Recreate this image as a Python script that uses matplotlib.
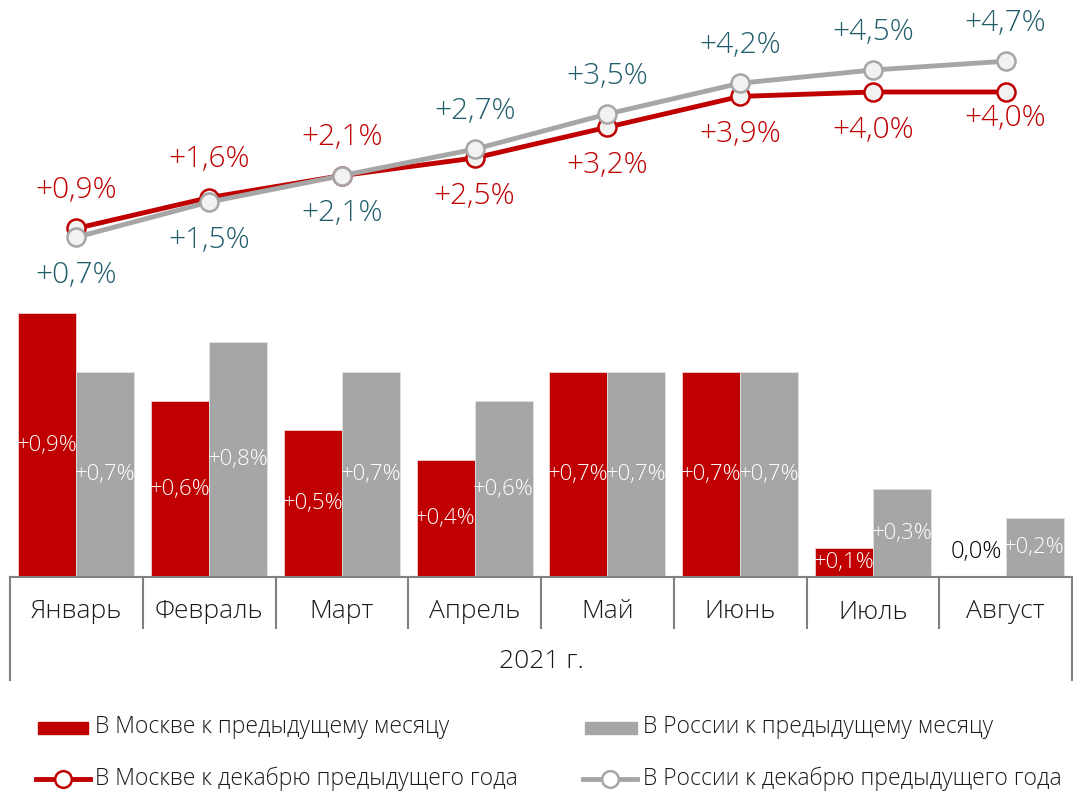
import matplotlib
matplotlib.use('Agg')
import matplotlib.pyplot as plt
import numpy as np
from matplotlib.patches import Rectangle
from matplotlib.lines import Line2D

plt.rcParams['font.family'] = ['Open Sans', 'DejaVu Sans']
plt.rcParams['font.weight'] = 'light'

# данные
months = ['Январь', 'Февраль', 'Март', 'Апрель', 'Май', 'Июнь', 'Июль', 'Август']
moscow_month = [0.9, 0.6, 0.5, 0.4, 0.7, 0.7, 0.1, 0.0]
russia_month = [0.7, 0.8, 0.7, 0.6, 0.7, 0.7, 0.3, 0.2]
moscow_dec = [0.9, 1.6, 2.1, 2.5, 3.2, 3.9, 4.0, 4.0]
russia_dec = [0.7, 1.5, 2.1, 2.7, 3.5, 4.2, 4.5, 4.7]
year_label = '2021 г.'

RED = '#C00000'
GRAY = '#A6A6A6'
TEAL = '#215D6B'
AXC = '#808080'

W, H = 1073, 792
fig = plt.figure(figsize=(W / 100, H / 100), dpi=100)
ax = fig.add_axes([10 / W, 215 / H, 1062 / W, 577 / H])

x = np.arange(len(months))
w = 0.437

def fmt(v):
    s = ('%.1f' % v).replace('.', ',') + '%'
    return s if v == 0 else '+' + s

# столбики
ax.bar(x - w / 2, moscow_month, w, color=RED, edgecolor='#F0D0D0', linewidth=0.6)
ax.bar(x + w / 2, russia_month, w, color=GRAY, edgecolor='#E0E0E0', linewidth=0.6)
ax.set_xlim(-0.5, 7.5)
ax.set_ylim(0, 577 / 293.3)
ax.axis('off')

for i in range(len(months)):
    for v, dx in ((moscow_month[i], -w / 2), (russia_month[i], w / 2)):
        if v == 0:
            ax.annotate(fmt(v), (i + dx, 0), xytext=(0, 25), textcoords='offset pixels',
                        ha='center', va='center', fontsize=17, color='black')
        else:
            ax.text(i + dx, v / 2, fmt(v), ha='center', va='center', fontsize=16, color='white')

# ось категорий
tr = ax.get_xaxis_transform()
ax.plot([-0.5, 7.5], [0, 0], color=AXC, lw=1.5, transform=tr, clip_on=False)
for b in np.arange(0.5, 7.5, 1):
    ax.plot([b, b], [0, -51 / 577], color=AXC, lw=1.5, transform=tr, clip_on=False)
for b in (-0.5, 7.5):
    ax.plot([b, b], [0, -103 / 577], color=AXC, lw=1.5, transform=tr, clip_on=False)
for i, m in enumerate(months):
    ax.text(i, -35 / 577, m, transform=tr, ha='center', va='center', fontsize=19, color='#1A1A1A')
ax.text(3.5, -85 / 577, year_label, transform=tr, ha='center', va='center', fontsize=19, color='#1A1A1A')

# линии
ax2 = ax.twinx()
ax2.set_ylim(-309 / 44, 268 / 44)
ax2.axis('off')
ax2.plot(x, moscow_dec, color=RED, lw=3.5, marker='o', ms=13, mfc='#F2F2F2', mec=RED, mew=1.8, zorder=3)
ax2.plot(x, russia_dec, color=GRAY, lw=3.5, marker='o', ms=13, mfc='#F2F2F2', mec=GRAY, mew=1.8, zorder=4)

# подписи: первые три месяца Москва сверху, дальше снизу
for i in range(len(months)):
    up = i < 3
    off_m = 38 if up else (-26 if i == 7 else -38)
    ax2.annotate(fmt(moscow_dec[i]), (i, moscow_dec[i]), xytext=(0, off_m), textcoords='offset pixels',
                 ha='center', va='center', fontsize=21.5, color=RED)
    ax2.annotate(fmt(russia_dec[i]), (i, russia_dec[i]), xytext=(0, -38 if up else 38), textcoords='offset pixels',
                 ha='center', va='center', fontsize=21.5, color=TEAL)

# легенда
def fx(px):
    return px / W

def fy(py):
    return 1 - py / H

fig.add_artist(Rectangle((fx(38), fy(734)), fx(50), 12 / H, color=RED, transform=fig.transFigure))
fig.add_artist(Rectangle((fx(585), fy(734)), fx(52), 12 / H, color=GRAY, transform=fig.transFigure))
fig.add_artist(Line2D([fx(36), fx(90)], [fy(779), fy(779)], color=RED, lw=3.5, transform=fig.transFigure))
fig.add_artist(Line2D([fx(63)], [fy(779)], marker='o', ms=12, mfc='white', mec=RED, mew=1.8, transform=fig.transFigure))
fig.add_artist(Line2D([fx(583), fx(637)], [fy(779), fy(779)], color=GRAY, lw=3.5, transform=fig.transFigure))
fig.add_artist(Line2D([fx(610)], [fy(779)], marker='o', ms=12, mfc='white', mec=GRAY, mew=1.8, transform=fig.transFigure))

leg_kw = dict(ha='left', va='center', fontsize=16.5, color='#1A1A1A')
fig.text(fx(95), fy(727), 'В Москве к предыдущему месяцу', **leg_kw)
fig.text(fx(643), fy(727), 'В России к предыдущему месяцу', **leg_kw)
fig.text(fx(95), fy(779), 'В Москве к декабрю предыдущего года', **leg_kw)
fig.text(fx(643), fy(779), 'В России к декабрю предыдущего года', **leg_kw)

fig.savefig('out.png', dpi=100)
